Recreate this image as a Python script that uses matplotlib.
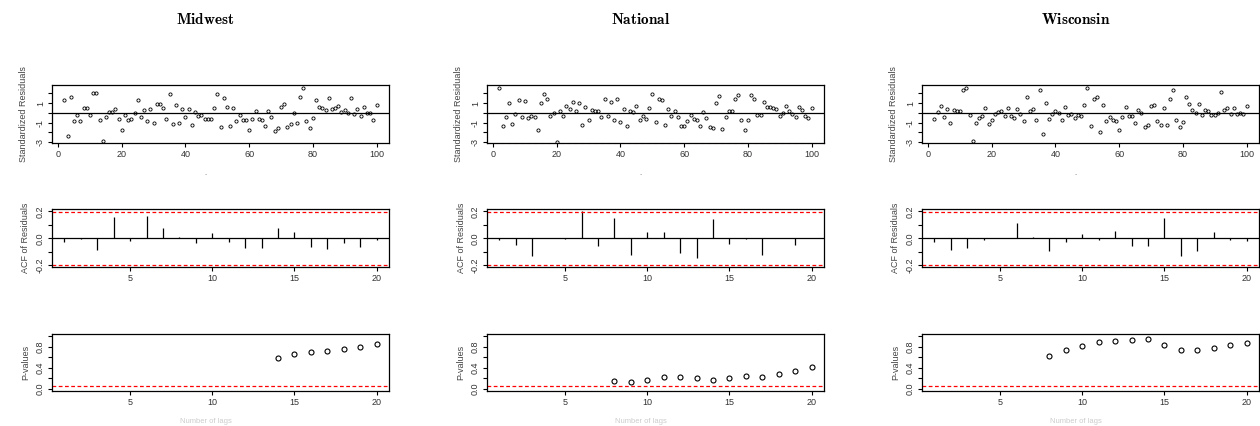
import numpy as np
import matplotlib
matplotlib.use('Agg')
import matplotlib.pyplot as plt

plt.rcParams['font.family'] = ['Liberation Sans', 'DejaVu Sans']
plt.rcParams['mathtext.fontset'] = 'cm'

'''
   data read off the reference (tsdiag-style panels)
'''
regions = ['Midwest', 'National', 'Wisconsin']
time_idx = list(range(2, 101))

midwest_resid = [1.35, -2.42, 1.62, -0.81, -0.24, -0.81, 0.54, 0.54, -0.20, 2.05,
                 2.02, -0.77, -2.90, -0.47, 0.07, 0.07, 0.34, -0.67, -1.72, -0.24,
                 -0.77, -0.64, 0.00, 1.35, -0.44, 0.27, -0.84, 0.37, -1.04, 0.94,
                 0.91, 0.50, -0.64, 1.92, -1.11, 0.84, -1.04, 0.37, -0.47, 0.40,
                 -1.28, 0.07, -0.34, -0.20, -0.67, -0.67, -0.67, 0.54, 1.92, -1.48,
                 1.52, 0.61, -1.35, 0.54, -0.81, -0.27, -0.71, -0.74, -1.72, -0.67,
                 0.17, -0.64, -0.71, -1.38, 0.17, -0.44, -1.89, -1.58, 0.64, 0.88,
                 -1.45, -1.18, 0.00, -1.04, 1.65, 2.56, -0.88, -1.58, -0.57, 1.35,
                 0.57, 0.44, 0.27, 1.48, 0.40, 0.50, 0.67, 0.10, 0.30, 0.00,
                 1.48, -0.17, 0.37, -0.30, 0.57, 0.00, 0.00, -0.74, 0.84]
national_resid = [2.55, -1.38, -0.45, 1.00, -1.10, -0.17, 1.34, -0.41, 1.24, -0.55,
                  -0.31, -0.48, -1.76, 0.97, 1.93, 1.45, -0.38, 0.00, -3.03, 0.21,
                  -0.34, 0.69, 0.38, 1.10, 0.17, 0.97, -1.24, 0.62, -0.69, 0.24,
                  0.21, 0.14, -0.48, 1.45, -0.31, 1.07, -0.69, 1.38, -0.93, 0.38,
                  -1.38, 0.17, 0.07, 0.69, -0.72, -0.38, -0.59, 0.52, 1.97, -0.93,
                  1.41, 1.28, -1.24, 0.41, -0.34, 0.17, -0.48, -1.38, -1.38, -0.86,
                  -0.24, -0.66, -0.69, -1.34, 0.10, -0.55, -1.48, -1.59, 1.00, 1.69,
                  -1.69, -0.45, 0.14, 0.17, 1.41, 1.86, -0.72, -1.72, -0.72, 1.83,
                  1.41, -0.21, -0.24, 1.10, 0.59, 0.59, 0.52, 0.34, -0.31, -0.03,
                  0.72, 0.17, -0.14, -0.41, 0.59, 0.24, -0.28, -0.52, 0.48]
wisconsin_resid = [-0.68, 0.03, 0.68, -0.44, 0.34, -1.02, 0.27, 0.14, 0.14, 2.34,
                   2.58, -0.20, -2.88, -1.02, -0.51, -0.34, 0.51, -1.12, -0.71, -0.10,
                   0.10, 0.17, -0.31, 0.44, -0.34, -0.51, 0.34, -0.14, -0.85, 1.59,
                   0.14, 0.37, -0.75, 2.34, -2.20, 1.05, -0.68, -0.17, 0.17, -0.07,
                   -0.78, 0.61, -0.20, -0.17, -0.51, -0.20, -0.37, 0.78, 2.58, -1.36,
                   1.39, 1.59, -1.93, 0.78, -0.85, -0.41, -0.78, -0.85, -1.73, -0.47,
                   0.58, -0.37, -0.37, -1.05, 0.24, -0.07, -1.49, -1.25, 0.68, 0.75,
                   -0.81, -1.22, 0.44, -1.22, 1.46, 2.37, -0.75, -1.49, -0.95, 1.59,
                   0.92, 0.27, -0.03, 0.85, -0.20, 0.31, 0.17, -0.20, -0.20, -0.07,
                   2.10, 0.31, 0.51, -0.14, 0.54, -0.17, -0.03, -0.14, 0.68]

lags = list(range(1, 21))
midwest_acf = [-0.025, -0.007, -0.086, 0.158, -0.020, 0.168, 0.077, 0.012, -0.035, 0.042,
               -0.025, -0.072, -0.072, 0.079, 0.047, -0.062, -0.081, -0.032, -0.064, -0.012]
national_acf = [-0.015, -0.050, -0.133, 0.003, -0.002, 0.200, -0.058, 0.150, -0.120, 0.045,
                0.045, -0.108, -0.145, 0.143, -0.040, -0.003, -0.123, 0.002, -0.050, 0.000]
wisconsin_acf = [-0.027, -0.086, -0.072, -0.012, 0.000, 0.111, 0.010, -0.094, -0.025, 0.035,
                 -0.012, 0.052, -0.054, -0.054, 0.148, -0.131, -0.091, 0.049, -0.012, -0.017]

midwest_plags = list(range(14, 21))
midwest_pval = [0.59, 0.66, 0.70, 0.71, 0.76, 0.80, 0.85]
national_plags = list(range(8, 21))
national_pval = [0.15, 0.125, 0.17, 0.22, 0.225, 0.20, 0.16, 0.20, 0.25, 0.225, 0.29, 0.34, 0.41]
wisconsin_plags = list(range(8, 21))
wisconsin_pval = [0.625, 0.74, 0.81, 0.88, 0.91, 0.93, 0.94, 0.84, 0.74, 0.73, 0.775, 0.83, 0.875]

resid = [midwest_resid, national_resid, wisconsin_resid]
acfs = [midwest_acf, national_acf, wisconsin_acf]
plags = [midwest_plags, national_plags, wisconsin_plags]
pvals = [midwest_pval, national_pval, wisconsin_pval]

acf_bound = 0.197

'''
   layout in pixels
'''
W, H = 1260, 426
fig = plt.figure(figsize=(W / 100, H / 100), dpi=100)

lefts = [52, 487, 922]
width = 337
rows = [(85, 143), (209, 267), (334, 391)]

def add_ax(left, top, bottom):
    return fig.add_axes([left / W, 1 - bottom / H, width / W, (bottom - top) / H])

def style(ax):
    for s in ax.spines.values():
        s.set_linewidth(0.9)
    ax.tick_params(direction='out', length=3, width=0.8, labelsize=6.5, pad=2,
                   colors='black', labelcolor='#333333')
    for lab in ax.get_yticklabels():
        lab.set_rotation(90)
        lab.set_va('center')

lab_kw = dict(fontsize=6.5, color='#444444')

for i, name in enumerate(regions):
    left = lefts[i]

    # standardized residuals
    ax = add_ax(left, *rows[0])
    ax.plot(time_idx, resid[i], 'o', mfc='none', mec='black', ms=2.3, mew=0.6)
    ax.axhline(0, color='black', lw=0.9)
    ax.set_xlim(-1.92, 103.92)
    ax.set_ylim(-3.1, 2.85)
    ax.set_xticks([0, 20, 40, 60, 80, 100])
    ax.set_yticks([-3, -2, -1, 0, 1, 2])
    ax.set_yticklabels(['-3', '', '-1', '', '1', ''])
    ax.set_ylabel('Standardized Residuals', labelpad=6, **lab_kw)
    style(ax)
    if name == 'National':
        ax.axhline(-3.1, color='#ff8080', lw=0.8, ls=(0, (3, 3)), alpha=0.6, clip_on=False)

    # acf of residuals
    ax = add_ax(left, *rows[1])
    ax.vlines(lags, 0, acfs[i], color='black', lw=0.9)
    ax.axhline(0, color='black', lw=0.9)
    ax.axhline(acf_bound, color='red', lw=0.9, ls=(0, (3, 2)))
    ax.axhline(-acf_bound, color='red', lw=0.9, ls=(0, (3, 2)))
    ax.set_xlim(0.24, 20.76)
    ax.set_ylim(-0.212, 0.217)
    ax.set_xticks([5, 10, 15, 20])
    ax.set_yticks([-0.2, -0.1, 0.0, 0.1, 0.2])
    ax.set_yticklabels(['-0.2', '', '0.0', '', '0.2'])
    ax.set_ylabel('ACF of Residuals', labelpad=4, **lab_kw)
    style(ax)

    # ljung-box p-values
    ax = add_ax(left, *rows[2])
    ax.plot(plags[i], pvals[i], 'o', mfc='none', mec='black', ms=3.6, mew=0.8)
    ax.axhline(0.05, color='red', lw=0.9, ls=(0, (3, 2)))
    ax.set_xlim(0.24, 20.76)
    ax.set_ylim(-0.04, 1.04)
    ax.set_xticks([5, 10, 15, 20])
    ax.set_yticks([0, 0.2, 0.4, 0.6, 0.8, 1.0])
    ax.set_yticklabels(['0.0', '', '0.4', '', '0.8', ''])
    ax.set_ylabel('P-values', labelpad=4, **lab_kw)
    style(ax)

    # column title
    cx = (left + width / 2 - 15) / W
    fig.text(cx, 1 - 20 / H, r'$\mathbf{%s}$' % name, ha='center', va='center', fontsize=11)

    # faint x labels
    fig.text(cx, 1 - 175 / H, '-', ha='center', va='center', fontsize=5, color='#999999')
    fig.text(cx, 1 / H, 'Number of lags', ha='center', va='bottom', fontsize=5.5, color='#cccccc')

plt.savefig('out.png', dpi=100)
